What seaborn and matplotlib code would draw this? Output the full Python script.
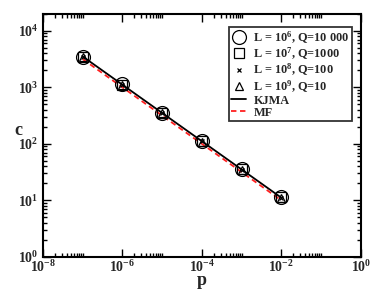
import numpy as np
import pandas as pd
import matplotlib
matplotlib.use("Agg")
import matplotlib.pyplot as plt
import seaborn as sns
from matplotlib.ticker import FixedLocator, NullFormatter

# ---- data ----
p = [1e-7, 1e-6, 1e-5, 1e-4, 1e-3, 1e-2]
c_L6 = [3500, 1130, 357, 113, 36, 11.5]
c_L7 = [3500, 1120, 355, 112, 35.5, 11.4]
c_L8 = [3480, 1110, 352, 111, 35.2, 11.2]
c_L9 = [3470, 1100, 350, 110, 35.0, 11.1]
kjma = [3520, 1113, 352, 111.3, 35.2, 11.13]
mf = [3162, 1000, 316.2, 100, 31.62, 10.0]
series_labels = [r"L = 10$^{6}$, Q=10 000", r"L = 10$^{7}$, Q=1000",
                 r"L = 10$^{8}$, Q=100", r"L = 10$^{9}$, Q=10", "KJMA", "MF"]
xtick_exps = [-8, -6, -4, -2, 0]
ytick_exps = [0, 1, 2, 3, 4]

sns.set_style("ticks")
plt.rcParams["font.family"] = ["Liberation Serif", "DejaVu Serif"]
plt.rcParams["font.weight"] = "bold"
plt.rcParams["mathtext.fontset"] = "custom"
plt.rcParams["mathtext.rm"] = "Liberation Serif:bold"
plt.rcParams["mathtext.bf"] = "Liberation Serif:bold"
plt.rcParams["mathtext.it"] = "Liberation Serif:bold"

fig = plt.figure(figsize=(3.74, 2.89), dpi=100)
ax = fig.add_axes([0.115, 0.111, 0.85, 0.841])

df_k = pd.DataFrame({"p": p, "c": kjma})
df_m = pd.DataFrame({"p": p, "c": mf})
sns.lineplot(data=df_k, x="p", y="c", ax=ax, color="black", lw=1.3, label=series_labels[4], zorder=2)
sns.lineplot(data=df_m, x="p", y="c", ax=ax, color="#ff2020", lw=1.3, ls=(0, (3, 2)), label=series_labels[5], zorder=2)

mk = [("o", 10, c_L6), ("s", 6.5, c_L7), ("x", 3.5, c_L8), ("^", 6, c_L9)]
for (m, s, vals), lab in zip(mk, series_labels[:4]):
    ax.plot(p, vals, ls="none", marker=m, ms=s, mfc="none", mec="black", mew=0.9, label=lab, zorder=3)

ax.set_xscale("log")
ax.set_yscale("log")
ax.set_xlim(1e-8, 1e0)
ax.set_ylim(1e0, 2e4)

ax.xaxis.set_major_locator(FixedLocator([10.0**e for e in xtick_exps]))
ax.set_xticklabels([r"10$^{%d}$" % e for e in xtick_exps], fontsize=10, fontweight="bold")
xminor = [k * 10.0**e for e in xtick_exps[:-1] for k in range(2, 11)]
ax.xaxis.set_minor_locator(FixedLocator(xminor))
ax.xaxis.set_minor_formatter(NullFormatter())

ax.yaxis.set_major_locator(FixedLocator([10.0**e for e in ytick_exps]))
ax.set_yticklabels([r"10$^{%d}$" % e for e in ytick_exps], fontsize=10, fontweight="bold")
yminor = [k * 10.0**e for e in ytick_exps for k in range(2, 10)]
ax.yaxis.set_minor_locator(FixedLocator(yminor))
ax.yaxis.set_minor_formatter(NullFormatter())

ax.tick_params(which="both", direction="in", top=True, right=True, width=1.0, color="black")
ax.tick_params(which="major", length=6)
ax.tick_params(axis="x", which="major", pad=1.5)
ax.tick_params(axis="y", which="major", pad=3)
ax.tick_params(which="minor", length=3)
for sp in ax.spines.values():
    sp.set_linewidth(1.5)
    sp.set_color("black")

ax.set_xlabel("p", fontsize=13, fontweight="bold", va="center")
ax.xaxis.set_label_coords(0.5, -0.098)
ax.set_ylabel("c", fontsize=13, fontweight="bold", rotation=0, va="center", ha="center")
ax.yaxis.set_label_coords(-0.078, 0.52)

handles, labels = ax.get_legend_handles_labels()
order = [labels.index(l) for l in series_labels]
leg = ax.legend([handles[i] for i in order], [labels[i] for i in order],
                loc="upper right", bbox_to_anchor=(0.972, 0.947), borderaxespad=0,
                frameon=True, fancybox=False,
                edgecolor="black", prop={"weight": "bold", "size": 8.8},
                handlelength=1.2, handletextpad=0.6, labelspacing=0.0, borderpad=0.2)
leg.get_frame().set_linewidth(1.3)

fig.savefig("out.png", dpi=100)
